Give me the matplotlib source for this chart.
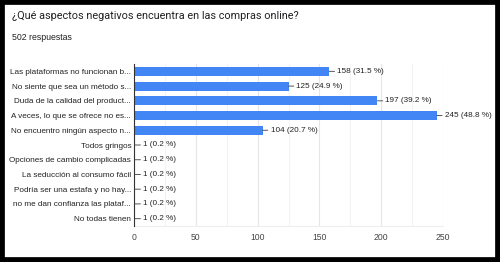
import matplotlib
matplotlib.use("Agg")
import matplotlib.pyplot as plt
from matplotlib.patches import Rectangle

title = "¿Qué aspectos negativos encuentra en las compras online?"
subtitle = "502 respuestas"
categories = [
    "Las plataformas no funcionan b...",
    "No siente que sea un método s...",
    "Duda de la calidad del product...",
    "A veces, lo que se ofrece no es...",
    "No encuentro ningún aspecto n...",
    "Todos gringos",
    "Opciones de cambio complicadas",
    "La seducción al consumo fácil",
    "Podría ser una estafa y no hay...",
    "no me dan confianza las plataf...",
    "No todas tienen",
]
values = [158, 125, 197, 245, 104, 1, 1, 1, 1, 1, 1]
percents = ["31.5", "24.9", "39.2", "48.8", "20.7", "0.2", "0.2", "0.2", "0.2", "0.2", "0.2"]
xticks = [0, 50, 100, 150, 200, 250]

font = ["Liberation Sans", "DejaVu Sans"]
fs = 5.9

W, H = 500, 262
fig = plt.figure(figsize=(W / 100, H / 100), dpi=100)
fig.patch.set_facecolor("white")

fig.patches.append(Rectangle((0, 0), 1, 1, transform=fig.transFigure, fill=False,
                             edgecolor="black", linewidth=7, zorder=10))

fig.text(12 / W, 1 - 19 / H, title, fontsize=7.8, color="#202124", family=["Roboto", "DejaVu Sans"],
         va="baseline", ha="left")
fig.text(12 / W, 1 - 40 / H, subtitle, fontsize=6.3, color="#202124", family=font,
         va="baseline", ha="left")

left, right, top, bottom = 134, 443, 64, 226
ax = fig.add_axes([left / W, 1 - bottom / H, (right - left) / W, (bottom - top) / H])
n = len(categories)
ypos = list(range(n))
ax.barh(ypos, values, height=0.62, color="#4285f4", zorder=3)
ax.set_ylim(n - 0.5, -0.5)
ax.set_xlim(0, 250)
ax.set_xticks(xticks)
ax.set_xticks(range(25, 250, 50), minor=True)
ax.tick_params(axis="x", which="both", length=0, pad=5, labelsize=6.2, labelcolor="#444444")
ax.tick_params(axis="y", length=0, pad=2, labelsize=fs, labelcolor="#222222")
ax.set_yticks(ypos)
ax.set_yticklabels(categories, family=font)
for lab in ax.get_xticklabels():
    lab.set_family(font)
ax.grid(axis="x", which="major", color="#e6e6e6", linewidth=0.8, zorder=0)
ax.grid(axis="x", which="minor", color="#f3f3f3", linewidth=0.8, zorder=0)
for s in ["top", "right"]:
    ax.spines[s].set_visible(False)
ax.spines["bottom"].set_color("#eeeeee")
ax.spines["left"].set_color("#333333")
ax.spines["left"].set_linewidth(0.8)
ax.spines["left"].set_zorder(4)

for i, (v, p) in enumerate(zip(values, percents)):
    ax.annotate(f"{v} ({p} %)", xy=(v, i), xytext=(8, 0), textcoords="offset pixels",
                va="center", ha="left", fontsize=fs, color="#222222", family=font,
                arrowprops=dict(arrowstyle="-", color="#555555", lw=0.7, shrinkA=0, shrinkB=0))

fig.savefig("out.png", dpi=100, facecolor="white")
